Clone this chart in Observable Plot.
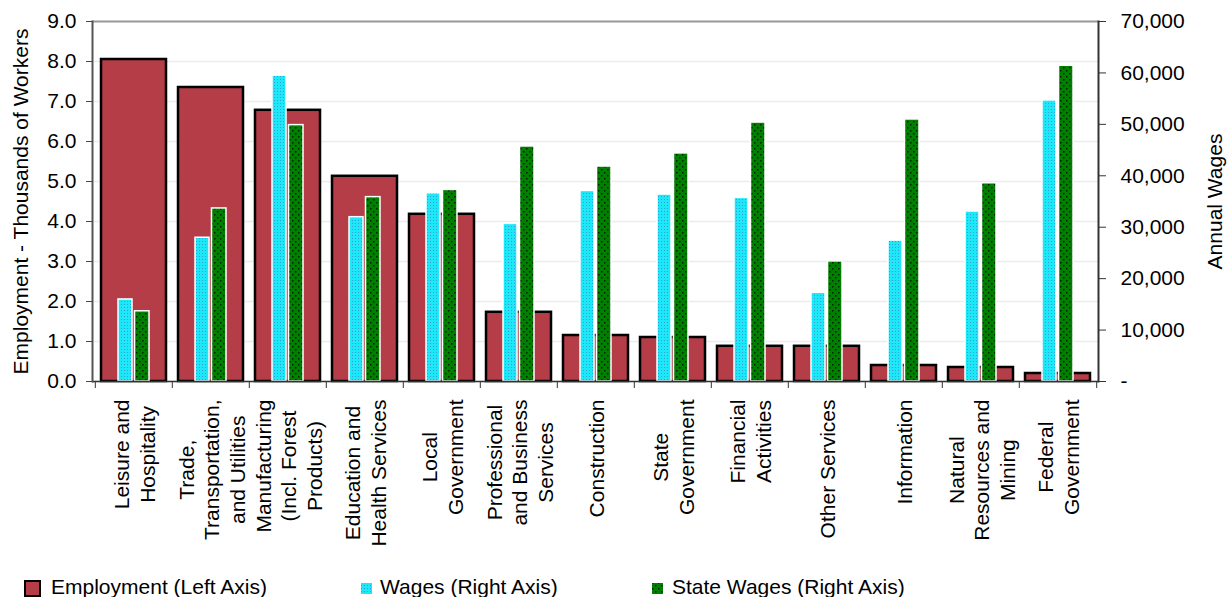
<!DOCTYPE html>
<html>
<head>
<meta charset="utf-8">
<script src="https://cdn.jsdelivr.net/npm/d3@7"></script>
<script src="https://cdn.jsdelivr.net/npm/@observablehq/plot@0.6"></script>
<style>
  html, body { margin: 0; padding: 0; background: #fff; }
  #wrap { position: relative; width: 1227px; height: 597px; overflow: hidden; font-family: "Liberation Sans", Arial, sans-serif; }
  #legend { position: absolute; left: 0; top: 572px; }
</style>
</head>
<body>
<div id="wrap"><div id="chart"></div><div id="legend"></div></div>
<script>
// ---- data ----
const categories = [
  "Leisure and\nHospitality",
  "Trade,\nTransportation,\nand Utilities",
  "Manufacturing\n(Incl. Forest\nProducts)",
  "Education and\nHealth Services",
  "Local\nGovernment",
  "Professional\nand Business\nServices",
  "Construction",
  "State\nGovernment",
  "Financial\nActivities",
  "Other Services",
  "Information",
  "Natural\nResources and\nMining",
  "Federal\nGovernment"
];
const employment = [8.05, 7.35, 6.78, 5.13, 4.18, 1.73, 1.15, 1.10, 0.88, 0.88, 0.40, 0.35, 0.20];
const wages      = [15950, 27950, 59450, 31950, 36600, 30650, 37050, 36350, 35700, 17250, 27400, 33050, 54650];
const stateWages = [13650, 33650, 49850, 35850, 37250, 45700, 41800, 44350, 50350, 23350, 50950, 38550, 61400];

const leftTicks = [0, 1, 2, 3, 4, 5, 6, 7, 8, 9];
const leftTickLabels = ["0.0","1.0","2.0","3.0","4.0","5.0","6.0","7.0","8.0","9.0"];
const rightTicks = [0, 10000, 20000, 30000, 40000, 50000, 60000, 70000];
const rightTickLabels = ["-","10,000","20,000","30,000","40,000","50,000","60,000","70,000"];
const seriesNames = ["Employment (Left Axis)", "Wages (Right Axis)", "State Wages (Right Axis)"];
const leftTitle = "Employment - Thousands of Workers";
const rightTitle = "Annual Wages";

// ---- build ----
const W = 1227, H = 572, mL = 92, mR = 129, mT = 21, mB = 191;
const FONT = "'Liberation Sans', Arial, sans-serif";
const k = leftTicks[leftTicks.length - 1] / rightTicks[rightTicks.length - 1]; // right-axis -> left-axis units
const step = (W - mL - mR) / categories.length;

const rows = categories.map((c, i) => ({cat: c, emp: employment[i], wage: wages[i] * k, state: stateWages[i] * k}));

const ctx = document.createElement("canvas").getContext("2d");
ctx.font = "21px " + FONT;
const labelMarks = categories.map(c => {
  const maxW = d3.max(c.split("\n"), s => ctx.measureText(s).width);
  return Plot.text([c], {
    x: d => d, text: d => d, frameAnchor: "bottom", rotate: -90,
    textAnchor: "middle", lineAnchor: "middle", lineHeight: 1.22,
    fontSize: 21, fill: "black", dy: 18 + maxW / 2
  });
});

const chart = Plot.plot({
  width: W, height: H,
  marginLeft: mL, marginRight: mR, marginTop: mT, marginBottom: mB,
  style: {fontFamily: FONT, fontSize: "21px", color: "black", background: "white", overflow: "visible"},
  x: {type: "band", domain: categories, padding: 0, axis: null, label: null},
  y: {domain: [0, 9], axis: null, label: null},
  marks: [
    Plot.gridY(leftTicks, {stroke: "#ececec", strokeOpacity: 1, strokeWidth: 1.5}),
    Plot.barY(rows, {x: "cat", y: "emp", fill: "#B53D48", stroke: "black", strokeWidth: 2.5, insetLeft: 6, insetRight: 6}),
    Plot.barY(rows, {x: "cat", y: "wage", fill: "url(#patCyan)", stroke: "white", strokeWidth: 1.5, insetLeft: 23, insetRight: 40}),
    Plot.barY(rows, {x: "cat", y: "state", fill: "url(#patGreen)", stroke: "white", strokeWidth: 1.5, insetLeft: 39.5, insetRight: 23}),
    Plot.ruleY([9], {stroke: "#999", strokeWidth: 2}),
    Plot.ruleY([0], {stroke: "#333", strokeWidth: 1.5}),
    Plot.frame({anchor: "left", stroke: "#555", strokeWidth: 2}),
    Plot.frame({anchor: "right", stroke: "#333", strokeWidth: 2}),
    Plot.axisX({tickSize: 7, tickFormat: () => "", label: null, dx: -step / 2, stroke: "#333"}),
    Plot.axisX([categories[categories.length - 1]], {tickSize: 7, tickFormat: () => "", label: null, dx: step / 2, stroke: "#333"}),
    Plot.axisY(leftTicks, {anchor: "left", tickSize: 6, tickPadding: 10, label: null, tickFormat: (d, i) => leftTickLabels[i], fontSize: 21, stroke: "#444", fill: "black"}),
    Plot.axisY(rightTicks.map(v => v * k), {anchor: "right", tickSize: 7, tickPadding: 15, label: null, tickFormat: (d, i) => rightTickLabels[i], fontSize: 21, stroke: "#333", fill: "black"}),
    Plot.text([leftTitle], {text: d => d, frameAnchor: "left", rotate: -90, textAnchor: "middle", lineAnchor: "middle", dx: -71, fontSize: 21, fill: "black"}),
    Plot.text([rightTitle], {text: d => d, frameAnchor: "right", rotate: -90, textAnchor: "middle", lineAnchor: "middle", dx: 117, fontSize: 21, fill: "black"}),
    ...labelMarks
  ]
});

const defs = d3.select(chart).insert("defs", ":first-child");
const pc = defs.append("pattern").attr("id", "patCyan").attr("width", 3).attr("height", 3).attr("patternUnits", "userSpaceOnUse");
pc.append("rect").attr("width", 3).attr("height", 3).attr("fill", "#1CE8F8");
pc.append("rect").attr("x", 1).attr("y", 1).attr("width", 1).attr("height", 1).attr("fill", "#3A9BDA");
const pg = defs.append("pattern").attr("id", "patGreen").attr("width", 6).attr("height", 6).attr("patternUnits", "userSpaceOnUse");
pg.append("rect").attr("width", 6).attr("height", 6).attr("fill", "#007F00");
pg.append("rect").attr("x", 1).attr("y", 1).attr("width", 1.5).attr("height", 1.5).attr("fill", "#002400");
pg.append("rect").attr("x", 4).attr("y", 4).attr("width", 1.5).attr("height", 1.5).attr("fill", "#002400");

document.getElementById("chart").appendChild(chart);

// ---- legend ----
const leg = d3.select("#legend").append("svg").attr("width", W).attr("height", 25)
  .style("font-family", FONT).style("font-size", "21px");
const items = [
  {x: 25, size: 15, fill: "#B53D48", stroke: "black", sw: 2, tx: 51},
  {x: 361, size: 11, fill: "url(#patCyan)", stroke: "none", sw: 0, tx: 380},
  {x: 652, size: 11, fill: "url(#patGreen)", stroke: "none", sw: 0, tx: 672}
];
items.forEach((it, i) => {
  leg.append("rect").attr("x", it.x).attr("y", 16.5 - it.size / 2).attr("width", it.size).attr("height", it.size)
    .attr("fill", it.fill).attr("stroke", it.stroke).attr("stroke-width", it.sw);
  leg.append("text").attr("x", it.tx).attr("y", 22).attr("fill", "black").text(seriesNames[i]);
});
</script>
</body>
</html>
